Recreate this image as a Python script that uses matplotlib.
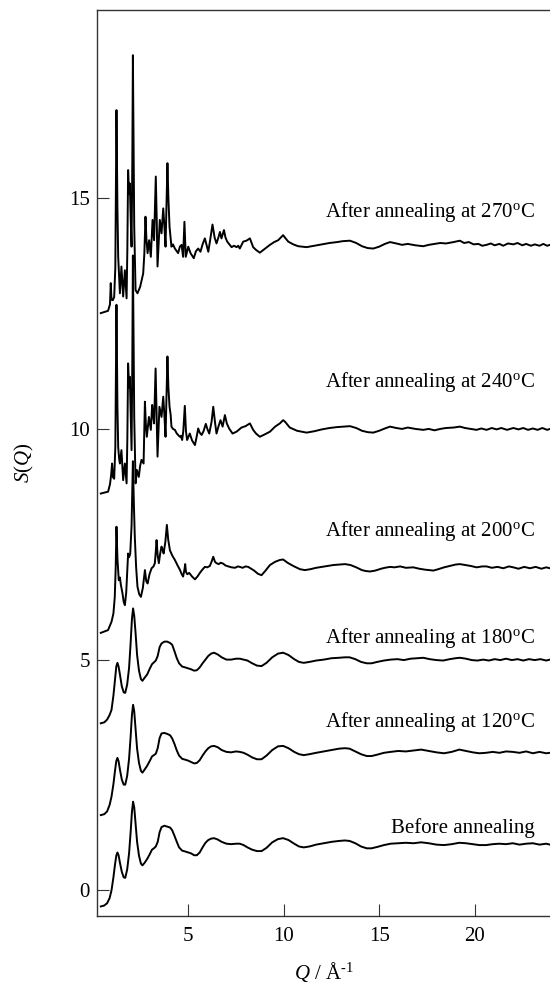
#!/usr/bin/env python3

import matplotlib
matplotlib.use('Agg')
import matplotlib.pyplot as plt

plt.rcParams['font.family'] = ['Liberation Serif', 'DejaVu Serif']
plt.rcParams['mathtext.fontset'] = 'custom'
plt.rcParams['mathtext.rm'] = 'Liberation Serif'
plt.rcParams['mathtext.it'] = 'Liberation Serif:italic'

# S(Q) curves, (Q, S) pairs before vertical offset
before = [(0.42, -0.35), (0.60, -0.33), (0.75, -0.28), (0.88, -0.17), (0.98, 0.0), (1.08, 0.28),
          (1.16, 0.55), (1.23, 0.75), (1.29, 0.82), (1.35, 0.76), (1.42, 0.60), (1.52, 0.40),
          (1.62, 0.28), (1.70, 0.27), (1.80, 0.45), (1.90, 0.80), (1.98, 1.25), (2.05, 1.70),
          (2.11, 1.92), (2.17, 1.80), (2.24, 1.45), (2.32, 1.05), (2.42, 0.75), (2.52, 0.58),
          (2.60, 0.54), (2.72, 0.60), (2.85, 0.68), (2.98, 0.78), (3.10, 0.88), (3.20, 0.91),
          (3.30, 0.95), (3.40, 1.05), (3.50, 1.26), (3.60, 1.37), (3.75, 1.40), (3.90, 1.38),
          (4.05, 1.36), (4.16, 1.30), (4.28, 1.18), (4.40, 1.05), (4.52, 0.93), (4.68, 0.86),
          (4.85, 0.84), (5.00, 0.82), (5.15, 0.80), (5.31, 0.76), (5.45, 0.76), (5.60, 0.82),
          (5.75, 0.93), (5.90, 1.03), (6.05, 1.09), (6.20, 1.12), (6.35, 1.13), (6.55, 1.10),
          (6.75, 1.05), (7.00, 1.01), (7.25, 1.00), (7.50, 1.01), (7.70, 1.01), (7.90, 0.98),
          (8.10, 0.93), (8.35, 0.88), (8.60, 0.85), (8.84, 0.85), (9.10, 0.92), (9.40, 1.04),
          (9.70, 1.11), (9.97, 1.13), (10.25, 1.09), (10.55, 1.01), (10.80, 0.95), (11.05, 0.93),
          (11.35, 0.95), (11.70, 0.99), (12.10, 1.02), (12.50, 1.05), (12.90, 1.07), (13.20, 1.08),
          (13.45, 1.07), (13.75, 1.02), (14.05, 0.95), (14.35, 0.91), (14.60, 0.91), (14.90, 0.94),
          (15.25, 0.98), (15.60, 1.01), (16.00, 1.02), (16.40, 1.03), (16.80, 1.02), (17.20, 1.04),
          (17.60, 1.02), (18.00, 0.99), (18.40, 0.98), (18.80, 1.00), (19.20, 1.03), (19.55, 1.02),
          (19.90, 1.00), (20.25, 0.98), (20.60, 0.98), (20.95, 1.00), (21.30, 1.01), (21.65, 1.00),
          (22.00, 1.02), (22.35, 0.99), (22.70, 1.01), (23.05, 1.02), (23.40, 0.99), (23.75, 1.01),
          (23.95, 0.99)]

ann120 = [(0.42, -0.37), (0.60, -0.35), (0.75, -0.29), (0.88, -0.15), (0.98, 0.03), (1.08, 0.30),
          (1.16, 0.58), (1.23, 0.80), (1.29, 0.87), (1.35, 0.80), (1.42, 0.62), (1.52, 0.40),
          (1.62, 0.29), (1.70, 0.29), (1.80, 0.48), (1.90, 0.85), (1.98, 1.32), (2.05, 1.80),
          (2.11, 2.02), (2.17, 1.88), (2.24, 1.50), (2.32, 1.07), (2.42, 0.76), (2.52, 0.59),
          (2.60, 0.55), (2.72, 0.62), (2.85, 0.70), (2.98, 0.80), (3.10, 0.90), (3.20, 0.93),
          (3.30, 0.96), (3.40, 1.08), (3.50, 1.30), (3.60, 1.40), (3.75, 1.41), (3.90, 1.39),
          (4.05, 1.36), (4.16, 1.29), (4.28, 1.17), (4.40, 1.03), (4.52, 0.92), (4.68, 0.85),
          (4.85, 0.83), (5.00, 0.81), (5.15, 0.78), (5.31, 0.75), (5.45, 0.76), (5.60, 0.82),
          (5.75, 0.92), (5.90, 1.01), (6.05, 1.08), (6.20, 1.12), (6.35, 1.13), (6.55, 1.10),
          (6.75, 1.04), (7.00, 1.00), (7.25, 0.99), (7.50, 1.01), (7.70, 1.00), (7.90, 0.98),
          (8.10, 0.94), (8.35, 0.88), (8.60, 0.84), (8.84, 0.84), (9.10, 0.92), (9.40, 1.04),
          (9.70, 1.12), (9.97, 1.13), (10.25, 1.08), (10.55, 1.00), (10.80, 0.95), (11.05, 0.93),
          (11.35, 0.95), (11.70, 0.98), (12.10, 1.01), (12.50, 1.04), (12.90, 1.07), (13.20, 1.08),
          (13.45, 1.07), (13.75, 1.01), (14.05, 0.95), (14.35, 0.91), (14.60, 0.91), (14.90, 0.94),
          (15.25, 0.98), (15.60, 1.00), (16.00, 1.02), (16.40, 1.01), (16.80, 1.03), (17.20, 1.05),
          (17.60, 1.02), (18.00, 0.99), (18.40, 0.97), (18.80, 1.00), (19.20, 1.05), (19.55, 1.02),
          (19.90, 0.99), (20.25, 0.97), (20.60, 0.98), (20.95, 1.00), (21.30, 0.98), (21.65, 1.01),
          (22.00, 1.00), (22.35, 0.98), (22.70, 1.01), (23.05, 0.97), (23.40, 1.00), (23.75, 0.97),
          (23.95, 0.98)]

ann180 = [(0.42, -0.38), (0.60, -0.36), (0.75, -0.30), (0.88, -0.20), (0.98, -0.09), (1.08, 0.22),
          (1.16, 0.55), (1.23, 0.85), (1.29, 0.93), (1.35, 0.85), (1.42, 0.68), (1.52, 0.42),
          (1.62, 0.29), (1.70, 0.28), (1.80, 0.46), (1.90, 0.82), (1.98, 1.35), (2.05, 1.88),
          (2.11, 2.11), (2.17, 1.95), (2.24, 1.58), (2.32, 1.10), (2.42, 0.76), (2.52, 0.58),
          (2.60, 0.54), (2.72, 0.61), (2.85, 0.68), (2.98, 0.80), (3.10, 0.90), (3.20, 0.94),
          (3.30, 0.98), (3.40, 1.08), (3.50, 1.27), (3.60, 1.35), (3.75, 1.39), (3.90, 1.39),
          (4.05, 1.36), (4.16, 1.32), (4.28, 1.18), (4.40, 1.03), (4.52, 0.92), (4.68, 0.85),
          (4.85, 0.83), (5.00, 0.81), (5.15, 0.79), (5.31, 0.76), (5.45, 0.77), (5.60, 0.83),
          (5.75, 0.92), (5.90, 1.00), (6.05, 1.08), (6.20, 1.13), (6.35, 1.15), (6.55, 1.11),
          (6.75, 1.05), (7.00, 1.00), (7.25, 1.00), (7.50, 1.02), (7.70, 1.02), (7.90, 1.00),
          (8.10, 0.98), (8.35, 0.92), (8.60, 0.87), (8.84, 0.86), (9.10, 0.93), (9.40, 1.05),
          (9.70, 1.13), (9.97, 1.15), (10.25, 1.10), (10.55, 1.01), (10.80, 0.95), (11.05, 0.93),
          (11.35, 0.95), (11.70, 0.98), (12.10, 1.00), (12.50, 1.03), (12.90, 1.04), (13.20, 1.05),
          (13.45, 1.05), (13.75, 1.01), (14.05, 0.95), (14.35, 0.92), (14.60, 0.92), (14.90, 0.95),
          (15.25, 0.98), (15.60, 1.00), (15.95, 1.01), (16.30, 0.99), (16.65, 1.02), (17.00, 1.03),
          (17.31, 1.04), (17.65, 1.01), (18.00, 0.99), (18.35, 0.98), (18.70, 1.01), (19.00, 1.03),
          (19.23, 1.04), (19.55, 1.02), (19.85, 0.99), (20.15, 0.98), (20.45, 1.00), (20.75, 0.98),
          (21.05, 1.01), (21.35, 0.99), (21.65, 1.02), (21.95, 0.99), (22.25, 1.01), (22.55, 0.98),
          (22.85, 1.01), (23.15, 0.99), (23.45, 1.01), (23.75, 0.98), (23.95, 1.00)]

ann200 = [(0.42, -0.42), (0.80, -0.36), (0.98, -0.18), (1.08, 0.0), (1.15, 0.35), (1.20, 1.0),
          (1.24, 1.88), (1.29, 1.2), (1.36, 0.72), (1.42, 0.78), (1.47, 0.62), (1.55, 0.45),
          (1.62, 0.25), (1.68, 0.18), (1.75, 0.45), (1.80, 0.9), (1.85, 1.30), (1.90, 1.22),
          (1.96, 1.29), (2.03, 1.9), (2.10, 3.30), (2.15, 2.4), (2.20, 1.66), (2.27, 1.0),
          (2.34, 0.58), (2.43, 0.42), (2.52, 0.36), (2.62, 0.55), (2.73, 0.94), (2.80, 0.70),
          (2.87, 0.65), (2.97, 0.85), (3.08, 0.98), (3.18, 1.02), (3.25, 1.09), (3.30, 1.35),
          (3.34, 1.59), (3.40, 1.25), (3.46, 1.09), (3.53, 1.30), (3.60, 1.45), (3.66, 1.38),
          (3.71, 1.30), (3.80, 1.55), (3.88, 1.92), (3.95, 1.6), (4.04, 1.37), (4.17, 1.25),
          (4.30, 1.16), (4.43, 1.05), (4.56, 0.95), (4.66, 0.85), (4.73, 0.80), (4.80, 0.95),
          (4.84, 1.07), (4.88, 0.9), (4.95, 0.85), (5.05, 0.88), (5.20, 0.80), (5.35, 0.74),
          (5.48, 0.80), (5.61, 0.88), (5.74, 0.95), (5.87, 1.01), (6.00, 1.00), (6.13, 1.03),
          (6.22, 1.12), (6.31, 1.23), (6.40, 1.12), (6.48, 1.09), (6.60, 1.07), (6.70, 1.10),
          (6.83, 1.08), (6.95, 1.04), (7.10, 1.02), (7.27, 1.00), (7.45, 0.99), (7.60, 1.02),
          (7.70, 1.01), (7.85, 0.99), (8.00, 1.02), (8.14, 1.01), (8.30, 0.97), (8.45, 0.93),
          (8.65, 0.86), (8.84, 0.83), (9.05, 0.93), (9.28, 1.05), (9.55, 1.12), (9.80, 1.16),
          (9.97, 1.17), (10.2, 1.10), (10.5, 1.03), (10.85, 0.96), (11.11, 0.94), (11.4, 0.96),
          (11.7, 0.99), (12.0, 1.01), (12.3, 1.03), (12.6, 1.05), (12.9, 1.06), (13.21, 1.07),
          (13.5, 1.05), (13.8, 1.00), (14.1, 0.94), (14.3, 0.92), (14.52, 0.91), (14.8, 0.93),
          (15.1, 0.97), (15.3, 0.99), (15.57, 1.01), (15.8, 1.00), (16.1, 1.02), (16.4, 0.99),
          (16.79, 1.0), (17.1, 0.97), (17.4, 0.95), (17.84, 0.93), (18.1, 0.96), (18.4, 1.00),
          (18.7, 1.03), (19.0, 1.06), (19.23, 1.07), (19.5, 1.05), (19.8, 1.03), (20.1, 1.00),
          (20.4, 1.02), (20.63, 1.02), (20.9, 0.99), (21.2, 1.01), (21.5, 0.98), (21.8, 1.02),
          (22.03, 1.00), (22.3, 0.97), (22.6, 1.01), (22.9, 0.98), (23.2, 1.01), (23.5, 0.97),
          (23.75, 1.0), (23.95, 0.98)]

ann240 = [(0.42, -0.40), (0.80, -0.36), (0.90, -0.20), (0.96, 0.0), (1.01, 0.25), (1.06, -0.05),
          (1.12, -0.08), (1.18, 0.6), (1.24, 3.69), (1.29, 1.5), (1.33, 0.61), (1.38, 0.35),
          (1.42, 0.25), (1.50, 0.54), (1.59, -0.11), (1.68, 0.25), (1.77, -0.18), (1.81, 0.8),
          (1.85, 2.42), (1.90, 1.9), (1.94, 2.13), (1.99, 1.3), (2.03, 0.54), (2.07, 2.5),
          (2.10, 4.76), (2.14, 2.6), (2.17, 1.26), (2.24, -0.18), (2.31, 0.11), (2.41, -0.04),
          (2.48, 0.2), (2.55, 0.33), (2.66, 0.25), (2.73, 1.59), (2.78, 1.1), (2.83, 0.83),
          (2.94, 1.26), (3.04, 0.98), (3.11, 1.52), (3.16, 1.3), (3.21, 1.12), (3.29, 2.31),
          (3.34, 1.4), (3.39, 0.40), (3.49, 1.48), (3.60, 1.26), (3.69, 1.70), (3.75, 1.3),
          (3.81, 0.83), (3.91, 2.57), (3.96, 1.9), (4.02, 1.48), (4.08, 1.3), (4.12, 1.05),
          (4.20, 1.0), (4.30, 0.98), (4.40, 0.9), (4.47, 0.87), (4.56, 0.83), (4.62, 0.85),
          (4.68, 0.76), (4.74, 0.95), (4.82, 1.50), (4.88, 0.95), (4.94, 0.76), (5.08, 0.90),
          (5.20, 0.75), (5.35, 0.65), (5.45, 0.85), (5.52, 1.01), (5.60, 0.92), (5.70, 0.87),
          (5.80, 0.95), (5.92, 1.11), (6.00, 1.0), (6.10, 0.90), (6.22, 1.15), (6.31, 1.48),
          (6.40, 1.15), (6.48, 0.90), (6.58, 1.05), (6.69, 1.19), (6.80, 1.05), (6.92, 1.30),
          (7.02, 1.12), (7.14, 1.01), (7.32, 0.90), (7.53, 0.94), (7.79, 1.03), (8.00, 1.06),
          (8.23, 1.12), (8.40, 0.98), (8.55, 0.90), (8.75, 0.83), (9.00, 0.88), (9.28, 0.94),
          (9.55, 1.05), (9.80, 1.12), (9.97, 1.19), (10.06, 1.16), (10.32, 1.03), (10.7, 0.96),
          (11.2, 0.92), (11.6, 0.95), (12.0, 0.99), (12.4, 1.02), (12.8, 1.04), (13.1, 1.05),
          (13.47, 1.06), (13.8, 1.02), (14.1, 0.96), (14.4, 0.93), (14.69, 0.92), (15.0, 0.96),
          (15.3, 1.01), (15.57, 1.05), (15.9, 1.02), (16.2, 1.00), (16.5, 1.03), (16.9, 1.00),
          (17.31, 0.98), (17.6, 1.00), (17.9, 0.97), (18.2, 1.00), (18.5, 1.02), (18.9, 1.03),
          (19.23, 1.05), (19.5, 1.02), (19.8, 1.00), (20.1, 0.98), (20.35, 1.01), (20.63, 0.98),
          (20.9, 1.02), (21.15, 0.99), (21.4, 1.02), (21.7, 0.98), (22.03, 1.02), (22.3, 0.99),
          (22.55, 1.02), (22.8, 0.98), (23.05, 1.01), (23.3, 0.98), (23.55, 1.02), (23.8, 0.98),
          (23.95, 1.0)]

ann270 = [(0.42, -0.49), (0.80, -0.44), (0.90, -0.30), (0.94, 0.16), (0.98, -0.2), (1.05, -0.21),
          (1.12, -0.14), (1.18, 0.5), (1.24, 3.91), (1.29, 1.8), (1.33, 0.73), (1.42, -0.06),
          (1.50, 0.52), (1.59, -0.13), (1.68, 0.44), (1.77, -0.17), (1.81, 0.9), (1.85, 2.61),
          (1.90, 2.1), (1.94, 2.32), (1.99, 1.5), (2.03, 0.95), (2.07, 2.8), (2.10, 5.10),
          (2.14, 2.9), (2.17, 1.38), (2.24, 0.01), (2.34, -0.06), (2.48, 0.08), (2.64, 0.37),
          (2.70, 0.8), (2.76, 1.60), (2.81, 1.1), (2.87, 0.81), (2.95, 1.09), (3.04, 0.73),
          (3.13, 1.53), (3.21, 1.09), (3.30, 2.47), (3.35, 1.5), (3.39, 0.52), (3.51, 1.53),
          (3.60, 1.24), (3.69, 1.78), (3.75, 1.4), (3.81, 0.95), (3.91, 2.76), (3.96, 2.0),
          (4.02, 1.38), (4.12, 0.95), (4.20, 1.0), (4.30, 0.91), (4.47, 0.81), (4.56, 0.95),
          (4.65, 0.99), (4.73, 0.73), (4.80, 1.49), (4.87, 0.73), (5.00, 0.95), (5.12, 0.81),
          (5.29, 0.70), (5.40, 0.85), (5.52, 0.91), (5.64, 0.84), (5.75, 1.0), (5.87, 1.13),
          (6.05, 0.84), (6.15, 1.1), (6.27, 1.43), (6.38, 1.15), (6.48, 1.02), (6.58, 1.15),
          (6.66, 1.27), (6.74, 1.13), (6.87, 1.31), (6.95, 1.15), (7.04, 1.06), (7.27, 0.94),
          (7.40, 0.97), (7.53, 0.94), (7.62, 0.97), (7.70, 0.91), (7.88, 1.06), (8.05, 1.08),
          (8.23, 1.13), (8.40, 0.94), (8.55, 0.88), (8.75, 0.82), (9.00, 0.90), (9.28, 0.99),
          (9.50, 1.05), (9.71, 1.09), (9.97, 1.20), (10.10, 1.13), (10.24, 1.06), (10.5, 1.0),
          (10.76, 0.96), (11.2, 0.94), (11.6, 0.97), (12.0, 1.0), (12.4, 1.03), (12.8, 1.05),
          (13.1, 1.07), (13.47, 1.08), (13.8, 1.03), (14.1, 0.96), (14.4, 0.92), (14.69, 0.91),
          (15.0, 0.95), (15.3, 1.01), (15.57, 1.05), (15.9, 1.02), (16.2, 0.99), (16.5, 1.01),
          (16.9, 0.98), (17.31, 0.96), (17.6, 0.99), (17.9, 1.01), (18.2, 1.03), (18.5, 1.02),
          (18.9, 1.05), (19.23, 1.08), (19.45, 1.03), (19.7, 1.05), (19.95, 1.00), (20.2, 1.01),
          (20.4, 0.97), (20.63, 0.99), (20.85, 1.02), (21.05, 0.98), (21.3, 1.01), (21.5, 0.97),
          (21.75, 1.02), (22.03, 1.0), (22.25, 1.03), (22.5, 0.98), (22.7, 1.01), (22.95, 0.97),
          (23.15, 1.00), (23.4, 0.97), (23.6, 1.01), (23.8, 0.97), (23.95, 0.99)]

curves = [before, ann120, ann180, ann200, ann240, ann270]
offsets = [0, 2, 4, 6, 9, 13]
labels = ['Before annealing', 'After annealing at 120$^{\\rm o}$C', 'After annealing at 180$^{\\rm o}$C',
          'After annealing at 200$^{\\rm o}$C', 'After annealing at 240$^{\\rm o}$C',
          'After annealing at 270$^{\\rm o}$C']
label_y = [1.25, 3.53, 5.37, 7.68, 10.91, 14.60]
label_x = 23.17

fig = plt.figure(figsize=(5.5, 9.86), dpi=100)
ax = fig.add_axes([97 / 550, 70 / 986, 453 / 550, 906 / 986])

for pts, off in zip(curves, offsets):
    q = [p[0] for p in pts]
    s = [p[1] + off for p in pts]
    ax.plot(q, s, color='black', linewidth=1.4, solid_joinstyle='round')

for lab, y in zip(labels, label_y):
    ax.text(label_x, y, lab, ha='right', va='baseline', fontsize=15)

ax.set_xlim(0.22, 23.95)
ax.set_ylim(-0.557, 19.08)
ax.set_xticks([5, 10, 15, 20])
ax.set_yticks([0, 5, 10, 15])
ax.tick_params(direction='in', length=8.5, width=0.8, labelsize=15, color='#333333')
ax.tick_params(axis='x', pad=8)
ax.tick_params(axis='y', pad=5)
ax.spines['right'].set_visible(False)
for side in ['left', 'top', 'bottom']:
    ax.spines[side].set_linewidth(1.0)
    ax.spines[side].set_color('#333333')

ax.set_xlabel('$Q$ / Å$^{\\text{-1}}$', fontsize=15, labelpad=10)
ax.set_ylabel('$S$($Q$)', fontsize=15, labelpad=24)

plt.savefig('out.png', dpi=100)
plt.close()
